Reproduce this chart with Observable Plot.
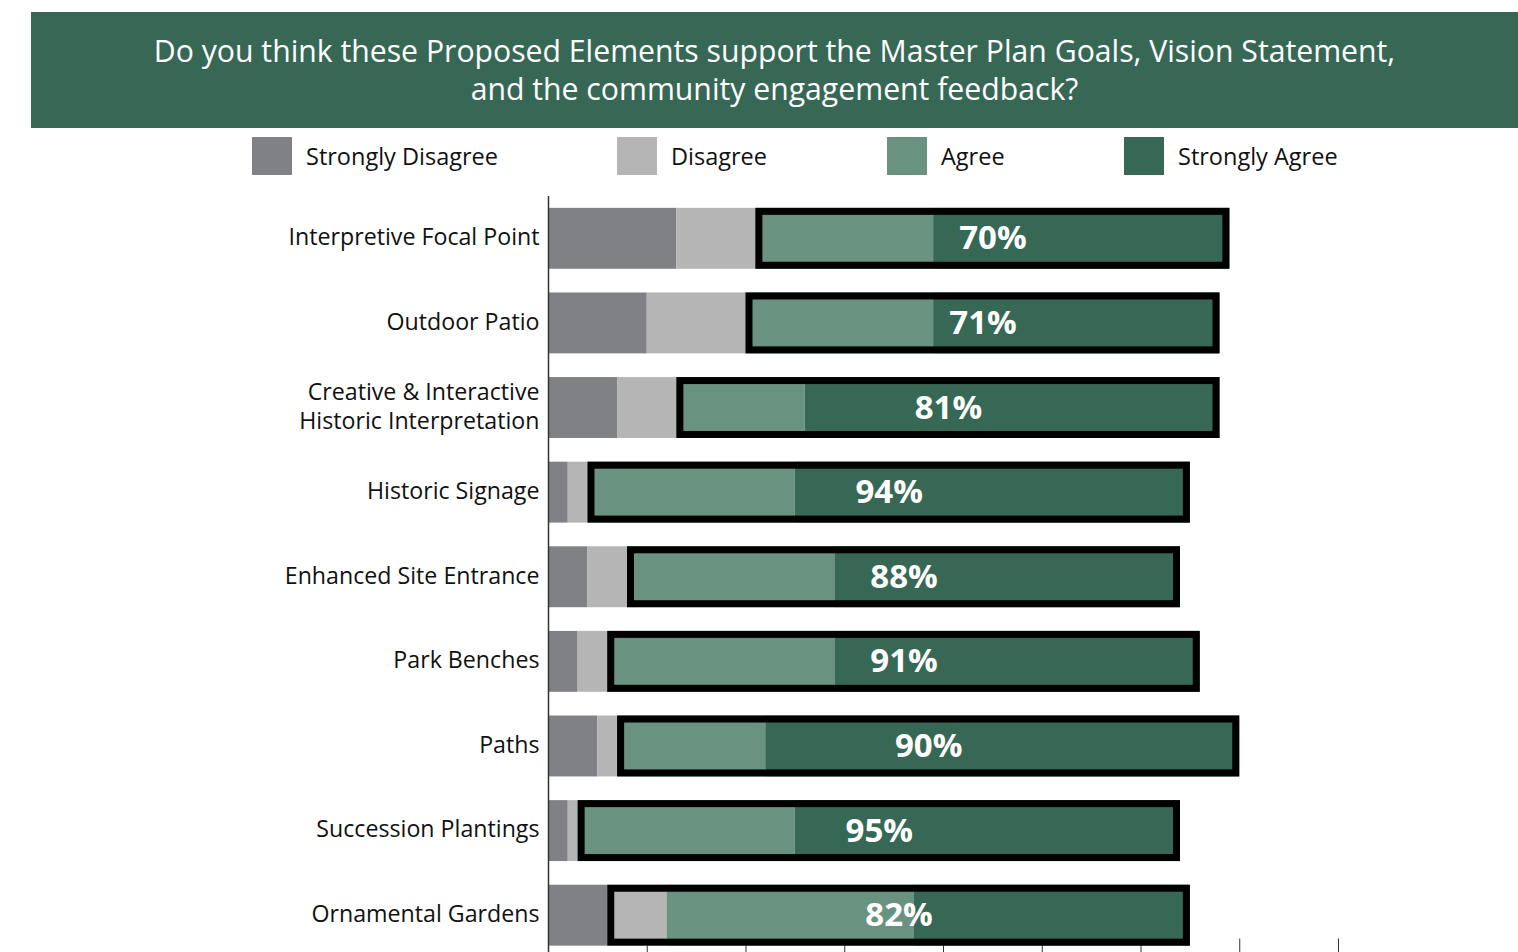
<!DOCTYPE html>
<html><head><meta charset="utf-8">
<script src="https://cdn.jsdelivr.net/npm/d3@7"></script>
<script src="https://cdn.jsdelivr.net/npm/@observablehq/plot@0.6"></script>
<style>
body{margin:0;background:#fff;font-family:"Open Sans",sans-serif;}
#page{width:1518px;overflow:hidden;}
#header{margin:12px 0 0 31px;width:1487px;height:116px;background:#376855;color:#fff;font-size:30.2px;line-height:38px;text-align:center;display:flex;flex-direction:column;justify-content:center;}
#legend{position:relative;height:62px;width:1518px;}
.item{position:absolute;top:9px;display:flex;align-items:center;height:38px;font-size:23.5px;color:#111;white-space:nowrap}
.sw{width:40px;height:38px;margin-right:14px}
#chart svg{display:block}
</style>
</head><body>
<div id="page">
<div id="header"><div>Do you think these Proposed Elements support the Master Plan Goals, Vision Statement,</div><div>and the community engagement feedback?</div></div>
<div id="legend"></div>
<div id="chart"></div>
</div>
<script>
const categories = ["Interpretive Focal Point","Outdoor Patio","Creative & Interactive\nHistoric Interpretation","Historic Signage","Enhanced Site Entrance","Park Benches","Paths","Succession Plantings","Ornamental Gardens"];
const levels = ["Strongly Disagree","Disagree","Agree","Strongly Agree"];
const stronglyDisagree = [13,10,7,2,4,3,5,2,6];
const disagree = [8,10,6,2,4,3,2,1,6];
const agree = [18,19,13,21,21,23,15,22,25];
const stronglyAgree = [30,29,42,40,35,37,48,39,28];
const outlineStart = [21,20,13,4,8,6,7,3,6];
const supportLabels = ["70%","71%","81%","94%","88%","91%","90%","95%","82%"];
const xTicks = [0,10,20,30,40,50,60,70,80];
const colors = ["#808184","#b4b5b4","#699280","#376855"];
const legendLeft = [252,617,887,1124];

const series = [stronglyDisagree, disagree, agree, stronglyAgree];
const rows = [];
categories.forEach((c,i)=>levels.forEach((l,j)=>rows.push({category:c, level:l, value:series[j][i]})));
const boxes = categories.map((c,i)=>({
  category:c,
  start:outlineStart[i],
  total:stronglyDisagree[i]+disagree[i]+agree[i]+stronglyAgree[i],
  label:supportLabels[i]
}));

const legend = document.getElementById("legend");
levels.forEach((l,j)=>{
  const it = document.createElement("div");
  it.className="item"; it.style.left=legendLeft[j]+"px";
  it.innerHTML = `<div class="sw" style="background:${colors[j]}"></div><span>${l}</span>`;
  legend.appendChild(it);
});

const chart = Plot.plot({
  width:1518, height:808,
  marginLeft:548, marginRight:180, marginTop:6, marginBottom:40.5,
  style:{fontFamily:"'Open Sans', sans-serif", color:"#111", background:"#fff"},
  x:{domain:[0,80]},
  y:{domain:categories, paddingInner:0.28, paddingOuter:0.14, round:false},
  color:{domain:levels, range:colors},
  marks:[
    Plot.axisX({ticks:xTicks, tickSize:20, dy:-19, label:null, stroke:"#333", tickFormat:()=>""}),
    Plot.barX(rows, {y:"category", x:"value", fill:"level"}),
    Plot.barX(boxes, {y:"category", x1:"start", x2:"total", fill:"none", stroke:"#000", strokeWidth:7, inset:3.5}),
    Plot.text(boxes, {y:"category", x:d=>(d.start+d.total)/2, text:"label", fill:"#fff", fontSize:33, fontWeight:"bold"}),
    Plot.ruleX([0], {stroke:"#333", strokeWidth:1.5}),
    Plot.axisY({tickSize:0, tickPadding:9, fontSize:23.2, lineHeight:1.25, dy:-3, label:null, fill:"#111"})
  ]
});
document.getElementById("chart").appendChild(chart);
</script>
</body></html>
